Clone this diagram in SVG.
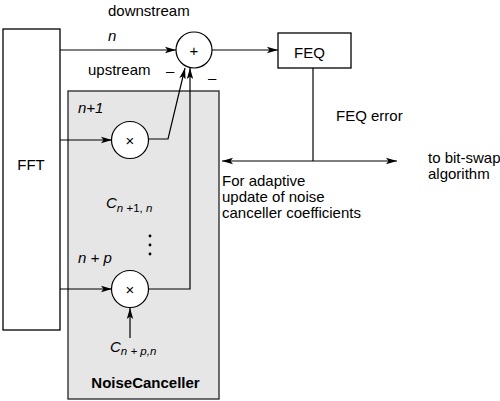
<svg xmlns="http://www.w3.org/2000/svg" width="500" height="401" viewBox="0 0 500 401">
<defs>
<marker id="ah" markerUnits="userSpaceOnUse" markerWidth="12" markerHeight="8" refX="11" refY="4" orient="auto-start-reverse">
<path d="M0,0.8 L11,4 L0,7.2 L2.5,4 Z" fill="#000"/>
</marker>
<style>
text{font-family:"Liberation Sans",Arial,sans-serif;font-size:15px;fill:#000}
.it{font-style:italic}
.sub{font-size:11.5px}
.ln{fill:none;stroke:#000;stroke-width:1.2}
.box{fill:#fff;stroke:#000;stroke-width:1.3}
.op{fill:#fff;stroke:#000;stroke-width:1.2}
</style>
</defs>
<rect width="500" height="401" fill="#fff"/>
<g id="noisecanceller">
<rect x="68" y="91" width="151" height="308" fill="#e6e6e6" stroke="#333" stroke-width="1.4"/>
<text x="145.5" y="388" text-anchor="middle" font-weight="bold" font-size="14.8">NoiseCanceller</text>
</g>
<g id="fft">
<rect class="box" x="3" y="29" width="57" height="301"/>
<text x="31" y="170" text-anchor="middle">FFT</text>
</g>
<g id="feq">
<rect class="box" x="278" y="33" width="73" height="35"/>
<text x="309.5" y="58" text-anchor="middle">FEQ</text>
</g>
<g id="connectors">
<line class="ln" x1="60" y1="50" x2="176" y2="50" marker-end="url(#ah)"/>
<line class="ln" x1="212" y1="50" x2="278" y2="50" marker-end="url(#ah)"/>
<line class="ln" x1="60" y1="140" x2="112" y2="140" marker-end="url(#ah)"/>
<line class="ln" x1="60" y1="289" x2="112" y2="289" marker-end="url(#ah)"/>
<polyline class="ln" points="148,139 168,139 185,68" marker-end="url(#ah)"/>
<polyline class="ln" points="148,289 190,289 190,68" marker-end="url(#ah)"/>
<line class="ln" x1="130" y1="338" x2="130" y2="308" marker-end="url(#ah)"/>
<line class="ln" x1="313" y1="68" x2="313" y2="161"/>
<line class="ln" x1="222" y1="161" x2="397" y2="161" marker-start="url(#ah)" marker-end="url(#ah)"/>
</g>
<g id="sum">
<circle class="op" cx="194" cy="50" r="18"/>
<text x="194" y="56" text-anchor="middle" font-size="15">+</text>
</g>
<g id="mul1">
<circle class="op" cx="130" cy="140" r="18.5"/>
<text x="130" y="146" text-anchor="middle" font-size="17">×</text>
</g>
<g id="mul2">
<circle class="op" cx="130" cy="289" r="18.5"/>
<text x="130" y="295" text-anchor="middle" font-size="17">×</text>
</g>
<g id="labels">
<text x="108" y="16">downstream</text>
<text x="88" y="75">upstream</text>
<text x="108" y="41" class="it">n</text>
<text x="166" y="76">–</text>
<text x="208" y="83">–</text>
<text x="78" y="113" class="it">n+1</text>
<text x="78" y="263" class="it">n + p</text>
<text x="106" y="208" class="it" font-size="15.5">C<tspan class="sub" dy="4">n</tspan><tspan class="sub" font-style="normal"> +1, </tspan><tspan class="sub">n</tspan></text>
<circle cx="150" cy="236" r="1.4" fill="#000"/>
<circle cx="150" cy="245" r="1.4" fill="#000"/>
<circle cx="150" cy="254" r="1.4" fill="#000"/>
<text x="110" y="352" class="it" font-size="15.5">C<tspan class="sub" dy="3">n + p,n</tspan></text>
<text x="336" y="121">FEQ error</text>
<text x="428" y="163">to bit-swap</text>
<text x="428" y="179">algorithm</text>
<text x="222" y="186">For adaptive</text>
<text x="222" y="202">update of noise</text>
<text x="222" y="218">canceller coefficients</text>
</g>
</svg>
